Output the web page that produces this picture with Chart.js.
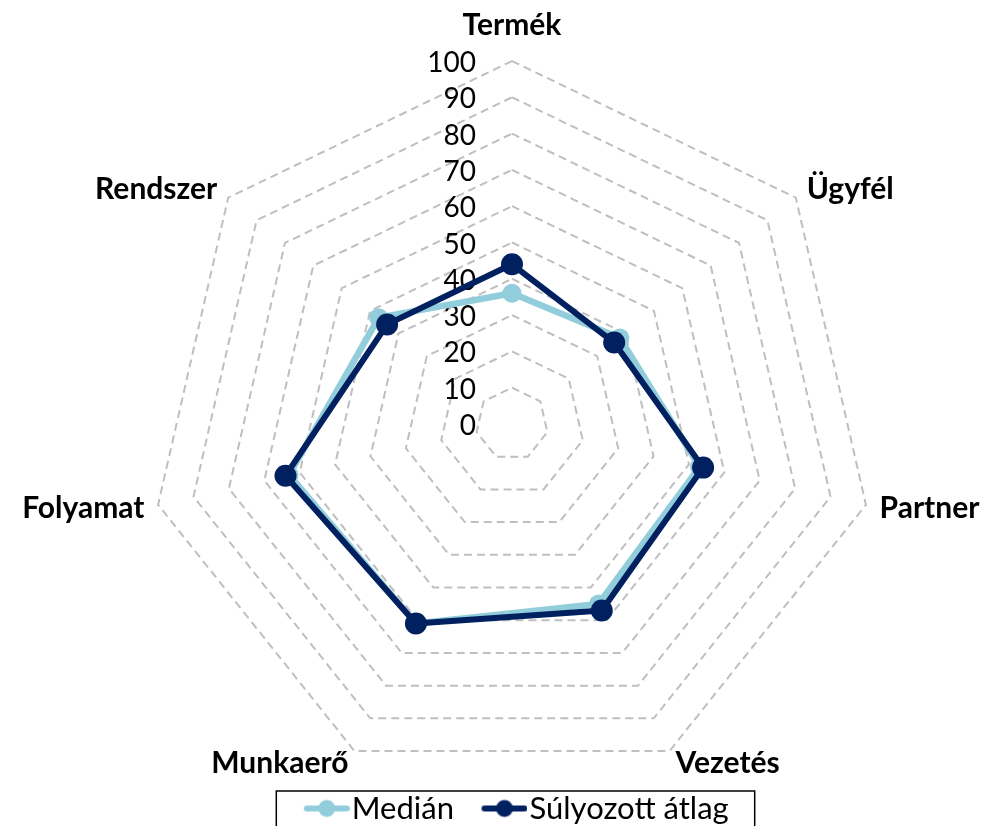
<!DOCTYPE html>
<html>
<head>
<meta charset="utf-8">
<script src="https://cdn.jsdelivr.net/npm/chart.js@4.4.1/dist/chart.umd.min.js"></script>
<style>
  html, body { margin: 0; padding: 0; background: #fff; }
  #wrap { width: 988px; height: 826px; position: relative; }
</style>
</head>
<body>
<div id="wrap"><canvas id="radar"></canvas></div>
<script>
// data
const categories = ["Termék", "Ügyfél", "Partner", "Vezetés", "Munkaerő", "Folyamat", "Rendszer"];
const medianValues = [36, 38, 53, 55, 61, 63, 47];
const weightedAvgValues = [44, 36, 54, 57, 61, 64, 44];
const rTicks = [0, 10, 20, 30, 40, 50, 60, 70, 80, 90, 100];
const seriesNames = ["Medián", "Súlyozott átlag"];

const LIGHT = "#92CDDC";
const DARK = "#002060";
const FONT = "Lato, 'Open Sans', sans-serif";

// legend marker: line with a dot, transparent room on the left for item spacing
function makeMarker(color) {
  const c = document.createElement("canvas");
  c.width = 80;
  c.height = 28;
  const g = c.getContext("2d");
  g.strokeStyle = color;
  g.lineWidth = 6;
  g.lineCap = "round";
  g.beginPath();
  g.moveTo(37, 14);
  g.lineTo(77, 14);
  g.stroke();
  g.fillStyle = color;
  g.beginPath();
  g.arc(57, 14, 8.5, 0, Math.PI * 2);
  g.fill();
  return c;
}
const markers = [makeMarker(LIGHT), makeMarker(DARK)];

// tick numbers, category names and the legend frame
const radarText = {
  id: "radarText",
  afterLayout(chart) {
    // nudge the legend row a little left/up, like the original
    const lg = chart.legend;
    lg.left -= 6;
    lg.right -= 6;
    lg.top -= 2;
    lg.bottom -= 2;
  },
  beforeDatasetsDraw(chart) {
    const r = chart.scales.r;
    const ctx = chart.ctx;
    ctx.save();
    ctx.fillStyle = "#000";
    ctx.font = "28px " + FONT;
    ctx.textAlign = "right";
    ctx.textBaseline = "middle";
    rTicks.forEach((v) => {
      const y = r.yCenter - r.getDistanceFromCenterForValue(v);
      ctx.fillText(String(v), r.xCenter - 36, y + 2);
    });

    ctx.font = "bold 30px " + FONT;
    categories.forEach((name, i) => {
      const p = r.getPointPosition(i, r.drawingArea + 14);
      const dx = p.x - r.xCenter;
      let y = p.y;
      if (Math.abs(dx) < 5) {
        ctx.textAlign = "center";
        y -= 22;
      } else {
        ctx.textAlign = dx > 0 ? "left" : "right";
      }
      ctx.fillText(name, p.x, y);
    });
    ctx.restore();
  },
  afterDraw(chart) {
    const lg = chart.legend;
    const hb = lg.legendHitBoxes;
    if (!hb || !hb.length) return;
    const last = hb[hb.length - 1];
    const left = hb[0].left - 7;
    const right = last.left + last.width + 26;
    const ctx = chart.ctx;
    ctx.save();
    ctx.strokeStyle = "#000";
    ctx.lineWidth = 1.5;
    ctx.strokeRect(left, lg.top + 5, right - left, 60);
    ctx.restore();
  },
};

new Chart(document.getElementById("radar"), {
  type: "radar",
  data: {
    labels: categories,
    datasets: [
      {
        label: seriesNames[0],
        data: medianValues,
        borderColor: LIGHT,
        backgroundColor: LIGHT,
        borderWidth: 6.5,
        borderJoinStyle: "round",
        pointRadius: 9.5,
        pointBorderWidth: 0,
        pointBackgroundColor: LIGHT,
        fill: false,
        order: 1,
      },
      {
        label: seriesNames[1],
        data: weightedAvgValues,
        borderColor: DARK,
        backgroundColor: DARK,
        borderWidth: 6,
        borderJoinStyle: "round",
        pointRadius: 11,
        pointBorderWidth: 0,
        pointBackgroundColor: DARK,
        fill: false,
        order: 0,
      },
    ],
  },
  options: {
    responsive: true,
    maintainAspectRatio: false,
    devicePixelRatio: 1,
    animation: false,
    layout: { padding: { left: 36, top: 61, right: 0, bottom: 0 } },
    scales: {
      r: {
        min: rTicks[0],
        max: rTicks[rTicks.length - 1],
        ticks: { stepSize: 10, display: false },
        grid: { color: "#BFBFBF", lineWidth: 2 },
        border: { dash: [8, 5] },
        angleLines: { display: false },
        pointLabels: { display: false },
      },
    },
    plugins: {
      tooltip: { enabled: false },
      legend: {
        position: "bottom",
        maxHeight: 38,
        labels: {
          usePointStyle: true,
          pointStyleWidth: 53,
          padding: 7,
          color: "#000",
          font: { family: FONT, size: 31 },
          sort: (a, b) => a.datasetIndex - b.datasetIndex,
          generateLabels(chart) {
            const items = Chart.defaults.plugins.legend.labels.generateLabels(chart);
            items.forEach((it) => {
              it.pointStyle = markers[it.datasetIndex];
            });
            return items;
          },
        },
      },
    },
  },
  plugins: [radarText],
});
</script>
</body>
</html>
